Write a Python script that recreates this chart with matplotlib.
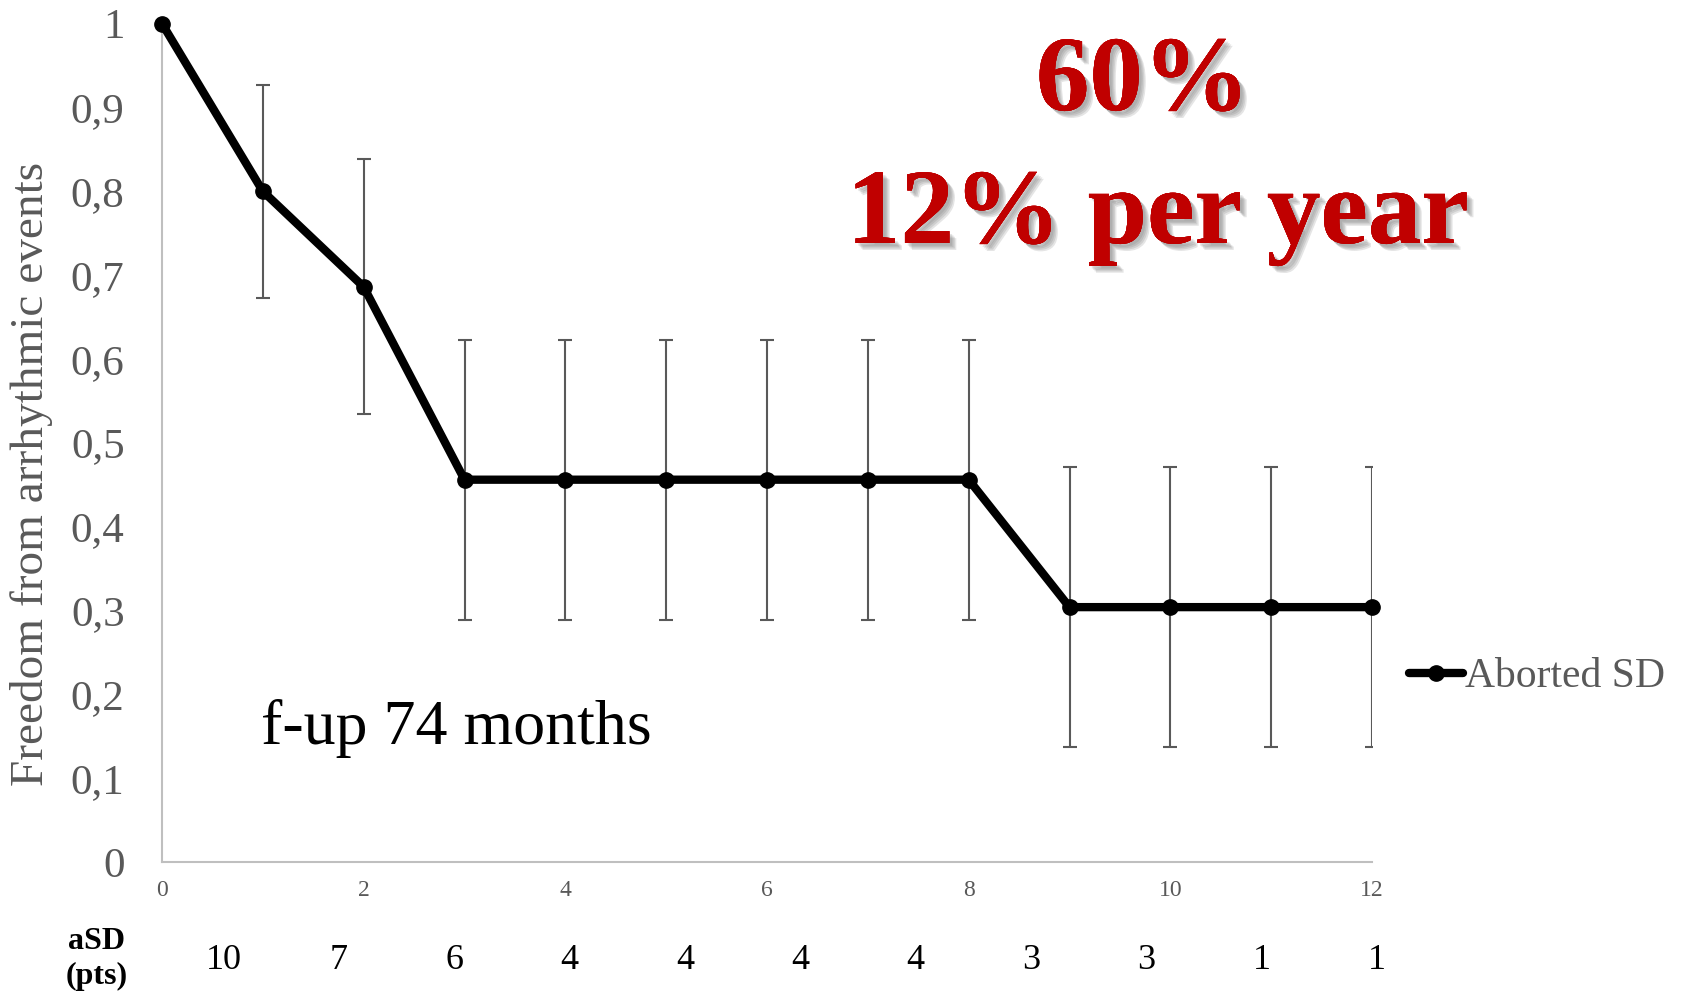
import matplotlib
matplotlib.use("Agg")
import matplotlib.pyplot as plt
import matplotlib.patheffects as pe
import numpy as np

plt.rcParams['font.family'] = ['Liberation Serif', 'DejaVu Serif']

# survival curve (freedom from arrhythmic events), by time point
months = [0, 1, 2, 3, 4, 5, 6, 7, 8, 9, 10, 11, 12]
freedom = [1.0, 0.80, 0.686, 0.456, 0.456, 0.456, 0.456, 0.456, 0.456,
           0.304, 0.304, 0.304, 0.304]
# symmetric error for points 1..12
err = [0.127, 0.152, 0.167, 0.167, 0.167, 0.167, 0.167, 0.167,
       0.167, 0.167, 0.167, 0.167]
# patients at risk
at_risk = [10, 7, 6, 4, 4, 4, 4, 3, 3, 1, 1]

y_ticks = [0, 0.1, 0.2, 0.3, 0.4, 0.5, 0.6, 0.7, 0.8, 0.9, 1.0]
x_ticks = [0, 2, 4, 6, 8, 10, 12]

GRAY = '#595959'
AXIS = '#BFBFBF'
RED = '#C00000'

W, H = 1685, 997
fig = plt.figure(figsize=(W / 100, H / 100), dpi=100)
ax = fig.add_axes([162 / W, 1 - 862 / H, 1210 / W, (862 - 23.6) / H])

ax.errorbar(months[1:], freedom[1:], yerr=err, fmt='none', ecolor=GRAY,
            elinewidth=1.5, capsize=5, capthick=1.5, zorder=2)
ax.plot(months, freedom, color='black', lw=6, marker='o', ms=11,
        solid_capstyle='round', label='Aborted SD', zorder=3, clip_on=False)

ax.set_xlim(0, 12)
ax.set_ylim(0, 1)
ax.set_yticks(y_ticks)
ax.set_yticklabels([f"{v:g}".replace('.', ',') for v in y_ticks])
ax.set_xticks(x_ticks)
ax.set_xticklabels([str(v) for v in x_ticks])
ax.tick_params(axis='y', length=0, pad=27, labelsize=31, labelcolor=GRAY)
ax.tick_params(axis='x', length=0, pad=13, labelsize=17, labelcolor=GRAY)

for side in ('top', 'right'):
    ax.spines[side].set_visible(False)
for side in ('left', 'bottom'):
    ax.spines[side].set_color(AXIS)
    ax.spines[side].set_linewidth(1.5)

fig.text(32 / W, 1 - 474 / H, 'Freedom from arrhythmic events', rotation=90,
         ha='center', va='center', fontsize=34, color=GRAY)

# soft drop shadow behind the headline numbers
shadow = [pe.withSimplePatchShadow(offset=(d, -d), shadow_rgbFace='#707070',
                                   alpha=0.18) for d in (2, 3, 4, 5)]
shadow.append(pe.Normal())
fig.text(1143 / W, 1 - 84 / H, '60%', ha='center', va='center',
         fontsize=77, fontweight='bold', color=RED, path_effects=shadow)
fig.text(1158 / W, 1 - 217 / H, '12% per year', ha='center', va='center',
         fontsize=77, fontweight='bold', color=RED, path_effects=shadow)

fig.text(456 / W, 1 - 744 / H, 'f-up 74 months', ha='center', va='baseline',
         fontsize=46, color='black')

ax.legend(loc='center left', bbox_to_anchor=(1409 / W, 1 - 677 / H),
          bbox_transform=fig.transFigure, frameon=False, fontsize=30,
          handlelength=1.3, handletextpad=0.05, borderpad=0, borderaxespad=0,
          labelcolor=GRAY)

# patients-at-risk row under the axis
xs = np.linspace(223.5, 1377, len(at_risk))
for x, n in zip(xs, at_risk):
    fig.text(x / W, 1 - 960 / H, str(n), ha='center', va='center',
             fontsize=26, color='black')
fig.text(97 / W, 1 - 959 / H, 'aSD\n(pts)', ha='center', va='center',
         fontsize=23, fontweight='bold', color='black', linespacing=1.3)

fig.savefig('out.png', dpi=100)
